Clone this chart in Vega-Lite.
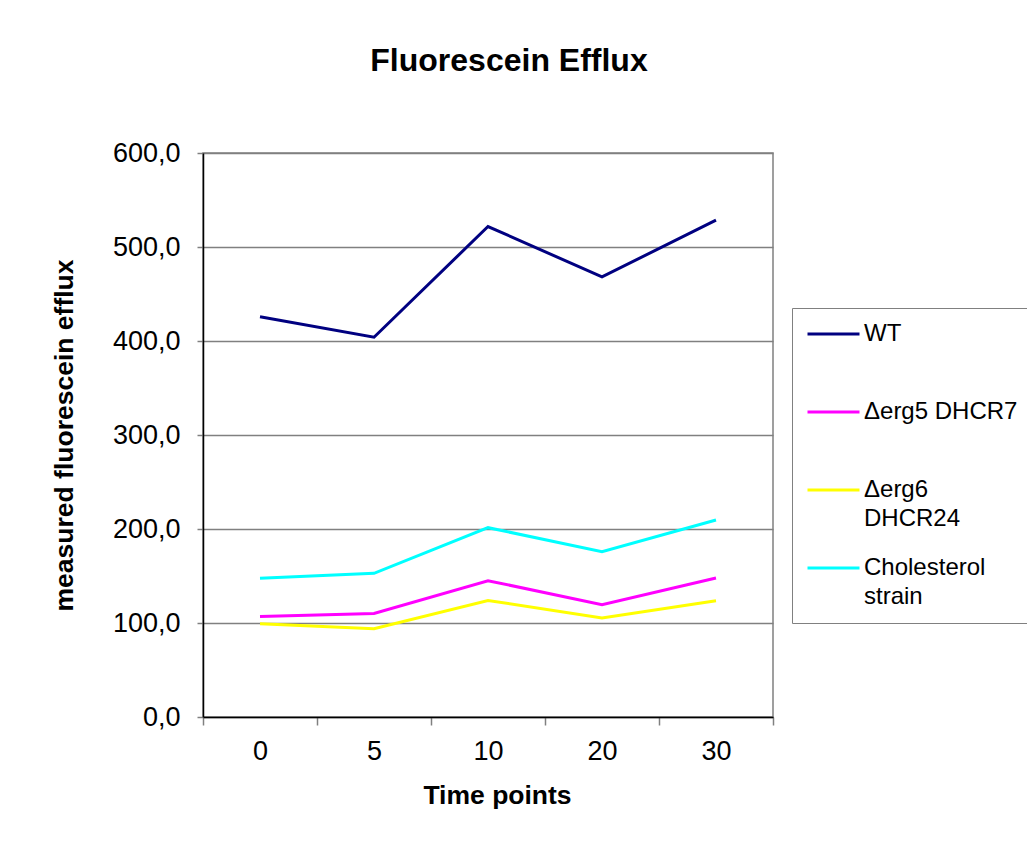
{
  "$schema": "https://vega.github.io/schema/vega-lite/v6.json",
  "width": 570,
  "height": 564,
  "autosize": {"type": "none"},
  "padding": {"left": 203, "top": 153, "right": 254, "bottom": 131},
  "background": "white",
  "title": {
    "text": "Fluorescein Efflux",
    "font": "Liberation Sans",
    "fontSize": 32,
    "fontWeight": "bold",
    "color": "black",
    "anchor": "middle",
    "frame": "group",
    "dx": 21,
    "baseline": "alphabetic",
    "offset": 36
  },
  "config": {
    "view": {"stroke": "#808080", "strokeWidth": 1.5},
    "style": {"guide-label": {"lineHeight": 29}}
  },
  "data": {
    "values": [
      {"time": 0, "strain": "WT", "efflux": 425.9},
      {"time": 5, "strain": "WT", "efflux": 404.0},
      {"time": 10, "strain": "WT", "efflux": 521.8},
      {"time": 20, "strain": "WT", "efflux": 468.2},
      {"time": 30, "strain": "WT", "efflux": 528.6},
      {"time": 0, "strain": "Δerg5 DHCR7", "efflux": 107.0},
      {"time": 5, "strain": "Δerg5 DHCR7", "efflux": 110.2},
      {"time": 10, "strain": "Δerg5 DHCR7", "efflux": 145.0},
      {"time": 20, "strain": "Δerg5 DHCR7", "efflux": 119.5},
      {"time": 30, "strain": "Δerg5 DHCR7", "efflux": 147.9},
      {"time": 0, "strain": "Δerg6 DHCR24", "efflux": 99.3},
      {"time": 5, "strain": "Δerg6 DHCR24", "efflux": 94.0},
      {"time": 10, "strain": "Δerg6 DHCR24", "efflux": 124.0},
      {"time": 20, "strain": "Δerg6 DHCR24", "efflux": 105.3},
      {"time": 30, "strain": "Δerg6 DHCR24", "efflux": 123.7},
      {"time": 0, "strain": "Cholesterol strain", "efflux": 147.5},
      {"time": 5, "strain": "Cholesterol strain", "efflux": 152.8},
      {"time": 10, "strain": "Cholesterol strain", "efflux": 201.4},
      {"time": 20, "strain": "Cholesterol strain", "efflux": 175.9},
      {"time": 30, "strain": "Cholesterol strain", "efflux": 209.6}
    ]
  },
  "mark": {"type": "line", "strokeWidth": 3},
  "encoding": {
    "x": {
      "field": "time",
      "type": "ordinal",
      "bandPosition": 0.5,
      "scale": {"type": "band", "paddingInner": 0, "paddingOuter": 0},
      "axis": {
        "title": "Time points",
        "titleFont": "Liberation Sans",
        "titleFontSize": 26.5,
        "titleFontWeight": "bold",
        "titleColor": "black",
        "titlePadding": 18,
        "titleX": 294,
        "labelAngle": 0,
        "labelFont": "Liberation Sans",
        "labelFontSize": 27,
        "labelColor": "black",
        "labelPadding": 13,
        "tickBand": "extent",
        "tickExtra": true,
        "tickSize": 8,
        "tickColor": "#808080",
        "tickWidth": 1.5,
        "domainColor": "black",
        "domainWidth": 1.5,
        "grid": false
      }
    },
    "y": {
      "field": "efflux",
      "type": "quantitative",
      "scale": {"domain": [0, 600]},
      "axis": {
        "title": "measured fluorescein efflux",
        "titleFont": "Liberation Sans",
        "titleFontSize": 26.5,
        "titleFontWeight": "bold",
        "titleColor": "black",
        "titlePadding": 34,
        "values": [0, 100, 200, 300, 400, 500, 600],
        "labelExpr": "replace(format(datum.value, '.1f'), '.', ',')",
        "labelFont": "Liberation Sans",
        "labelFontSize": 27,
        "labelColor": "black",
        "labelPadding": 17,
        "tickSize": 6,
        "tickColor": "#808080",
        "tickWidth": 1.5,
        "domainColor": "black",
        "domainWidth": 1.5,
        "grid": true,
        "gridColor": "#808080",
        "gridWidth": 1.5
      }
    },
    "color": {
      "field": "strain",
      "type": "nominal",
      "sort": null,
      "scale": {
        "domain": ["WT", "Δerg5 DHCR7", "Δerg6 DHCR24", "Cholesterol strain"],
        "range": ["#000080", "#FF00FF", "#FFFF00", "#00FFFF"]
      },
      "legend": {
        "orient": "none",
        "legendX": 589,
        "legendY": 155,
        "title": null,
        "symbolType": "stroke",
        "symbolSize": 2704,
        "symbolStrokeWidth": 3,
        "clipHeight": 24,
        "gridAlign": "all",
        "rowPadding": 25,
        "padding": 14,
        "strokeColor": "#808080",
        "fillColor": "white",
        "labelFont": "Liberation Sans",
        "labelFontSize": 24,
        "labelColor": "black",
        "labelLimit": 300,
        "labelOffset": 3,
        "labelExpr": "datum.label == 'Δerg6 DHCR24' ? ['Δerg6', 'DHCR24'] : datum.label == 'Cholesterol strain' ? ['Cholesterol', 'strain'] : datum.label"
      }
    }
  }
}
